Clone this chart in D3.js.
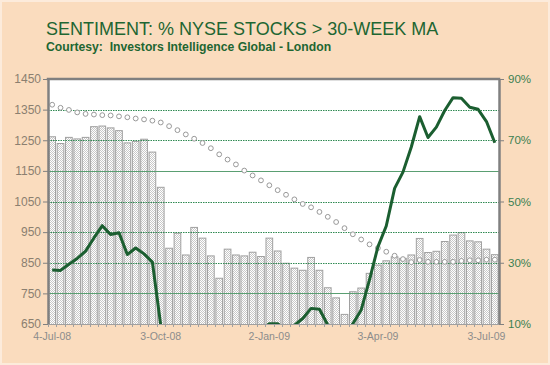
<!DOCTYPE html>
<html>
<head>
<meta charset="utf-8">
<script src="https://cdn.jsdelivr.net/npm/d3@7"></script>
<style>
body { margin: 0; background: #fff; }
text { font-family: "Liberation Sans", Arial, sans-serif; }
</style>
</head>
<body>
<script>
// weekly data, 4-Jul-08 .. 10-Jul-09
const tickLabels = ["4-Jul-08", "3-Oct-08", "2-Jan-09", "3-Apr-09", "3-Jul-09"];

// NYSE index (left axis, bars)
const indexValues = [1263, 1241, 1261, 1256, 1261, 1296, 1298, 1292, 1283, 1243,
    1248, 1255, 1213, 1098, 899, 948, 877, 967, 932, 874,
    801, 896, 877, 874, 886, 872, 932, 890, 850, 834,
    827, 869, 827, 770, 737, 683, 757, 769, 817, 844,
    858, 871, 866, 877, 931, 885, 889, 921, 942, 950,
    923, 920, 896, 878];

// 30-week moving average (left axis, circles)
const movingAvg = [1366, 1356, 1349, 1341, 1336, 1334, 1332, 1331, 1328, 1325,
    1321, 1318, 1314, 1308, 1296, 1283, 1269, 1255, 1241, 1224,
    1204, 1187, 1171, 1151, 1135, 1119, 1103, 1087, 1072, 1057,
    1042, 1031, 1016, 1000, 983, 963, 943, 926, 910, 898,
    886, 873, 862, 852, 859, 853, 853, 853, 853, 856,
    858, 858, 860, 860];

// % of NYSE stocks above 30-week MA (right axis, line)
const pctAbove = [27.6, 27.5, 29.5, 31.4, 33.8, 38.1, 42.1, 39.2, 39.8, 32.7,
    34.8, 32.9, 30.2, 9.6, 4, 3, 2, 2, 3, 2,
    1, 2, 3, 4, 6, 8, 10.1, 10.1, 8, 9.6,
    11.8, 15.1, 14.8, 9.7, 6, 6, 10.1, 14.6, 24.5, 35.2,
    42, 54.3, 59.6, 67.8, 77.7, 70.9, 74.3, 79.7, 83.9, 83.7,
    80.8, 80.1, 76.1, 69.2];

const W = 550, H = 365;
const plot = { left: 48, right: 499, top: 79, bottom: 324 };

const fmt = d3.timeFormat("%-d-%b-%y");
const cats = indexValues.map((v, i) => fmt(d3.timeDay.offset(new Date(2008, 6, 4), 7 * i)));

const x = d3.scaleBand().domain(cats).range([plot.left, plot.right])
    .paddingInner(0.08).paddingOuter(0.04);
const y = d3.scaleLinear().domain([650, 1450]).range([plot.bottom, plot.top]);
const y2 = d3.scaleLinear().domain([10, 90]).range([plot.bottom, plot.top]);

const svg = d3.select("body").append("svg")
    .attr("width", W).attr("height", H);

const defs = svg.append("defs");
const pat = defs.append("pattern").attr("id", "hatch")
    .attr("width", 2).attr("height", 2).attr("patternUnits", "userSpaceOnUse");
pat.append("rect").attr("width", 2).attr("height", 2).attr("fill", "#fff");
pat.append("rect").attr("width", 1).attr("height", 1).attr("fill", "#c8c8c8");
pat.append("rect").attr("x", 1).attr("y", 1).attr("width", 1).attr("height", 1).attr("fill", "#c8c8c8");

defs.append("clipPath").attr("id", "clip").append("rect")
    .attr("x", plot.left).attr("y", plot.top)
    .attr("width", plot.right - plot.left).attr("height", plot.bottom - plot.top);

// background
svg.append("rect").attr("x", 1).attr("y", 1).attr("width", W - 2).attr("height", H - 2)
    .attr("fill", "#fadcbe").attr("stroke", "#fcebdb").attr("stroke-width", 2);
svg.append("rect").attr("x", plot.left).attr("y", plot.top)
    .attr("width", plot.right - plot.left).attr("height", plot.bottom - plot.top)
    .attr("fill", "#fff");

// title
svg.append("text").attr("x", 46).attr("y", 35)
    .attr("font-size", 18).attr("fill", "#1e6632")
    .text("SENTIMENT: % NYSE STOCKS > 30-WEEK MA");
svg.append("text").attr("x", 46).attr("y", 51)
    .attr("font-size", 12.2).attr("font-weight", "bold").attr("fill", "#1e6632")
    .style("white-space", "pre")
    .text("Courtesy:  Investors Intelligence Global - London");

const g = svg.append("g").attr("clip-path", "url(#clip)");

// bars
g.selectAll(".bar").data(indexValues).enter().append("rect")
    .attr("x", (d, i) => x(cats[i]) + 0.5)
    .attr("y", d => y(d) + 0.5)
    .attr("width", x.bandwidth() - 1)
    .attr("height", d => y(650) - y(d))
    .attr("fill", "url(#hatch)")
    .attr("stroke", "#a0a0a0").attr("stroke-width", 1);

// gridlines
const grid = d3.range(750, 1400, 100);
g.selectAll(".grid").data(grid).enter().append("line")
    .attr("x1", plot.left).attr("x2", plot.right)
    .attr("y1", d => Math.round(y(d)) + 0.5).attr("y2", d => Math.round(y(d)) + 0.5)
    .attr("stroke", d => (d === 1150 || d === 750) ? "#5a9f72" : "#2f8a52")
    .attr("stroke-width", 1)
    .attr("stroke-dasharray", d => (d === 1150 || d === 750) ? null : "1.5,1");

// moving average circles
g.selectAll(".ma").data(movingAvg).enter().append("circle")
    .attr("cx", (d, i) => x(cats[i]) + x.bandwidth() / 2)
    .attr("cy", d => y(d))
    .attr("r", 2.4)
    .attr("fill", "#fff").attr("stroke", "#999").attr("stroke-width", 1);

// sentiment line
const line = d3.line()
    .x((d, i) => x(cats[i]) + x.bandwidth() / 2)
    .y(d => y2(d));
g.append("path").datum(pctAbove)
    .attr("d", line)
    .attr("fill", "none").attr("stroke", "#1b5e30")
    .attr("stroke-width", 3).attr("stroke-linejoin", "round");

// left axis
const axL = svg.append("g").attr("transform", `translate(${plot.left},0)`)
    .call(d3.axisLeft(y).tickValues(d3.range(650, 1451, 100)).tickFormat(d3.format("d"))
        .tickSize(5).tickSizeOuter(0).tickPadding(2));
axL.select(".domain").attr("stroke", "#808080").attr("stroke-width", 2.5);
axL.selectAll(".tick line").attr("stroke", "#808080");
axL.selectAll("text").attr("font-size", 12).attr("fill", "#8b7f70");

// right axis
const axR = svg.append("g").attr("transform", `translate(${plot.right},0)`)
    .call(d3.axisRight(y2).tickValues([10, 30, 50, 70, 90]).tickFormat(d => d + "%")
        .tickSize(5).tickSizeOuter(0).tickPadding(4));
axR.select(".domain").attr("stroke", "#808080").attr("stroke-width", 2.5);
axR.selectAll(".tick line").attr("stroke", "#808080");
axR.selectAll("text").attr("font-size", 11.5).attr("fill", "#3a8052");

// top border
svg.append("line").attr("x1", plot.left - 1.25).attr("x2", plot.right + 1.25)
    .attr("y1", plot.top).attr("y2", plot.top)
    .attr("stroke", "#808080").attr("stroke-width", 2.5);

// bottom axis
svg.append("line").attr("x1", plot.left).attr("x2", plot.right)
    .attr("y1", plot.bottom + 0.5).attr("y2", plot.bottom + 0.5)
    .attr("stroke", "#a0a0a0");
svg.selectAll(".xtick").data(cats).enter().append("line")
    .attr("x1", d => Math.round(x(d) - x.step() * x.paddingInner() / 2) + 0.5)
    .attr("x2", d => Math.round(x(d) - x.step() * x.paddingInner() / 2) + 0.5)
    .attr("y1", plot.bottom).attr("y2", plot.bottom + 3)
    .attr("stroke", "#a0a0a0");
const axB = svg.append("g").attr("transform", `translate(0,${plot.bottom})`)
    .call(d3.axisBottom(x).tickValues(tickLabels).tickSize(0).tickPadding(9));
axB.select(".domain").remove();
axB.selectAll("text").attr("font-size", 10.5).attr("fill", "#8c8c8c");
</script>
</body>
</html>
